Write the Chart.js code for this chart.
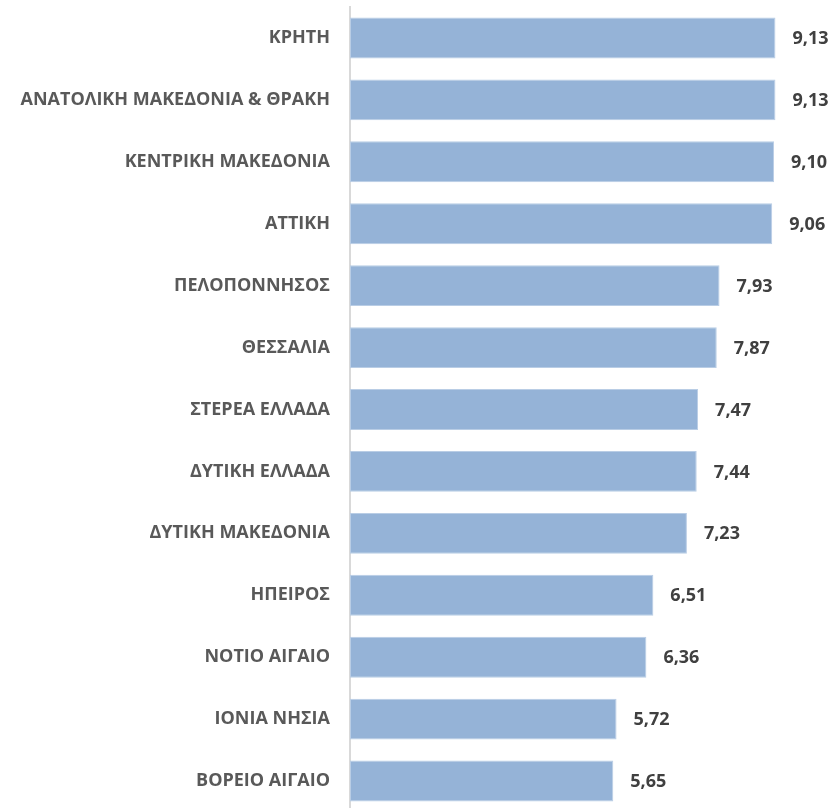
<!DOCTYPE html>
<html>
<head>
<meta charset="utf-8">
<script src="https://cdn.jsdelivr.net/npm/chart.js@4.4.1/dist/chart.umd.min.js"></script>
<style>
  html, body { margin: 0; padding: 0; background: #ffffff; overflow: hidden; }
  #wrap { position: relative; width: 836px; height: 812px; }
</style>
</head>
<body>
<div id="wrap"><canvas id="chart"></canvas></div>
<script>
// Περιφέρειες και τιμές
const regions = [
    'ΚΡΗΤΗ',
    'ΑΝΑΤΟΛΙΚΗ ΜΑΚΕΔΟΝΙΑ & ΘΡΑΚΗ',
    'ΚΕΝΤΡΙΚΗ ΜΑΚΕΔΟΝΙΑ',
    'ΑΤΤΙΚΗ',
    'ΠΕΛΟΠΟΝΝΗΣΟΣ',
    'ΘΕΣΣΑΛΙΑ',
    'ΣΤΕΡΕΑ ΕΛΛΑΔΑ',
    'ΔΥΤΙΚΗ ΕΛΛΑΔΑ',
    'ΔΥΤΙΚΗ ΜΑΚΕΔΟΝΙΑ',
    'ΗΠΕΙΡΟΣ',
    'ΝΟΤΙΟ ΑΙΓΑΙΟ',
    'ΙΟΝΙΑ ΝΗΣΙΑ',
    'ΒΟΡΕΙΟ ΑΙΓΑΙΟ'
];
const values = [9.13, 9.13, 9.10, 9.06, 7.93, 7.87, 7.47, 7.44, 7.23, 6.51, 6.36, 5.72, 5.65];

const fontFamily = "'Open Sans', 'Noto Sans', sans-serif";

// Ετικέτες τιμών δεξιά από κάθε μπάρα
const valueLabels = {
    id: 'valueLabels',
    afterDatasetsDraw(chart) {
        const ctx = chart.ctx;
        const meta = chart.getDatasetMeta(0);
        ctx.save();
        ctx.font = 'bold 18px ' + fontFamily;
        ctx.fillStyle = '#404040';
        ctx.textAlign = 'left';
        ctx.textBaseline = 'middle';
        meta.data.forEach((bar, i) => {
            const txt = values[i].toFixed(2).replace('.', ',');
            ctx.fillText(txt, bar.x + 17, bar.y + 1);
        });
        ctx.restore();
    }
};

const ctx = document.getElementById('chart').getContext('2d');
new Chart(ctx, {
    type: 'bar',
    data: {
        labels: regions,
        datasets: [{
            data: values,
            backgroundColor: '#95B3D7',
            borderColor: '#B9CDE5',
            borderWidth: 1,
            borderSkipped: false,
            barPercentage: 0.66,
            categoryPercentage: 1.0
        }]
    },
    options: {
        indexAxis: 'y',
        responsive: true,
        maintainAspectRatio: false,
        animation: false,
        layout: { padding: { top: 7, right: 20, bottom: 0, left: 0 } },
        plugins: {
            legend: { display: false },
            tooltip: { enabled: false }
        },
        scales: {
            x: {
                min: 0,
                max: 10,
                display: false
            },
            y: {
                afterFit(scale) {
                    scale.width = 350;
                    scale.paddingTop = 0;
                    scale.paddingBottom = 0;
                },
                grid: { display: false, drawTicks: false },
                border: { display: true, color: '#D9D9D9', width: 2 },
                ticks: {
                    padding: 20,
                    color: '#595959',
                    font: { family: fontFamily, size: 18, weight: 'bold' }
                }
            }
        }
    },
    plugins: [valueLabels]
});
</script>
</body>
</html>
